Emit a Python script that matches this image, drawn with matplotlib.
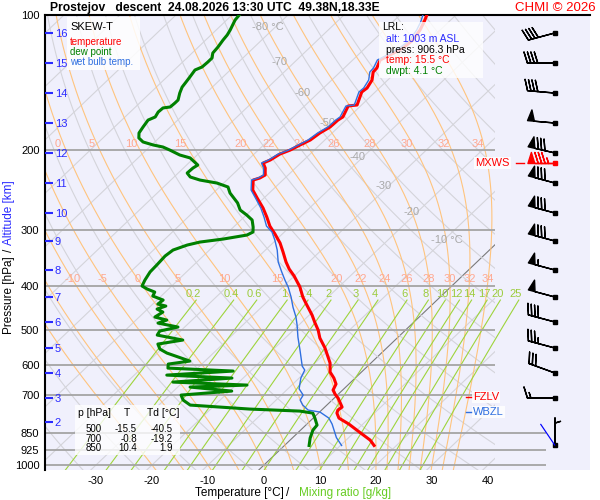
import numpy as np
import matplotlib
matplotlib.use('Agg')
import matplotlib.pyplot as plt
from matplotlib.patches import Rectangle
from matplotlib.ticker import NullLocator

plt.rcParams['font.family'] = ['Liberation Sans', 'DejaVu Sans']

# ---------------- sounding ----------------
temp_p = [100, 103.6, 108.0, 113.7, 118.4, 122.7, 125.9, 131.2, 133.9, 139.5,
          145.3, 148.3, 158.5, 159.3, 168.5, 171.2, 177.4, 182.9, 189.6, 194.5,
          199.6, 203.7, 210.0, 213.3, 218.8, 226.8, 230.3, 232.7, 244.9, 255.2,
          268.5, 281.4, 294.5, 306.7, 321.2, 336.2, 353.8, 366.9, 380.3, 402.4,
          423.6, 441.2, 464.3, 481.5, 501.4, 522.3, 549.8, 593.5, 621.6, 641.0,
          660.9, 681.6, 695.7, 710.1, 743.6, 755.1, 766.8, 786.7, 811.2, 844.3,
          880.5, 905]
temp_t = [-55.2, -54.4, -53.6, -53.0, -53.3, -54.3, -55.1, -54.2, -54.1, -52.8,
          -52.2, -52.4, -50.8, -52.2, -51.1, -51.4, -51.5, -52.2, -52.6, -53.5,
          -54.3, -55.4, -56.0, -56.7, -55.4, -54.1, -54.5, -55.3, -53.5, -51.2,
          -48.3, -45.9, -43.7, -41.3, -38.7, -36.5, -34.1, -32.2, -30.0, -26.9,
          -24.5, -22.3, -19.5, -17.7, -15.6, -13.8, -11.0, -7.3, -5.6, -3.8,
          -2.3, -1.7, -0.6, 0.7, 3.1, 2.9, 3.3, 4.6, 7.5, 10.8,
          14.3, 16.0]

dwpt_p = [100, 102.6, 108.0, 110.8, 113.7, 117.8, 121.5, 124.6, 127.2, 130.5,
          132.5, 137.4, 141.6, 144.6, 149.1, 154.5, 156.9, 160.1, 160.9, 164.3,
          168.5, 171.2, 177.4, 182.9, 187.6, 191.5, 194.5, 196.5, 199.6, 204.7,
          207.8, 215.5, 218.8, 224.5, 229.1, 232.7, 236.3, 241.1, 248.7, 261.6,
          271.3, 278.3, 285.5, 296.0, 303.6, 308.3, 314.7, 319.6, 324.5, 332.9,
          343.2, 359.5, 372.4, 388.2, 400.2, 406.5, 412.8, 421.3, 430.0, 439.0,
          443.4, 450.3, 457.3, 469.1, 476.4, 483.8, 493.7, 503.9, 514.4, 527.7,
          538.6, 552.6, 564.0, 587.6, 596.7, 609.1, 618.4, 631.3, 641.0, 654.3,
          664.4, 671.2, 685.1, 699.3, 717.4, 736.0, 751.2, 759.0, 766.8, 786.7,
          815.4, 836.5, 871.5, 905]
dwpt_t = [-88.7, -88.5, -87.5, -87.1, -86.9, -86.5, -86.3, -85.5, -85.5, -85.6,
          -86.3, -85.9, -85.6, -85.4, -84.7, -83.7, -83.7, -83.8, -84.9, -85.0,
          -84.6, -85.3, -84.9, -84.5, -83.6, -82.1, -79.7, -77.6, -75.8, -73.1,
          -70.7, -68.0, -68.3, -68.4, -67.1, -64.8, -61.2, -58.5, -57.0, -53.8,
          -52.0, -49.9, -48.0, -46.5, -45.6, -46.1, -49.6, -53.2, -54.9, -56.5,
          -56.8, -56.6, -56.5, -55.9, -55.3, -53.8, -51.9, -51.5, -48.9, -49.1,
          -47.3, -48.3, -46.7, -47.2, -44.5, -45.5, -41.2, -43.7, -43.4, -37.9,
          -41.6, -40.3, -38.3, -32.7, -36.0, -35.3, -23.1, -34.2, -22.0, -31.8,
          -18.0, -27.8, -19.6, -27.9, -26.6, -24.4, -13.0, -3.7, -1.0, 0.3,
          2.0, 2.2, 3.2, 4.4]

wetb_p = [100, 103.6, 108.0, 113.7, 118.4, 122.7, 125.9, 131.2, 133.9, 139.5,
          145.3, 148.3, 158.5, 159.3, 168.5, 171.2, 177.4, 182.9, 189.6, 194.5,
          199.6, 203.7, 210.0, 213.3, 218.8, 226.8, 230.3, 232.7, 244.9, 255.2,
          268.5, 281.4, 294.5, 303.6, 316.3, 332.9, 353.8, 371.6, 388.2, 402.4,
          423.6, 445.8, 469.1, 488.7, 519.7, 555.4, 602.9, 615.3, 641.0, 677.2,
          699.3, 717.4, 736.0, 755.1, 762.9, 786.7, 811.2, 869.3, 905]
wetb_t = [-55.9, -55.0, -54.2, -53.6, -53.9, -54.8, -55.6, -54.8, -54.7, -53.4,
          -52.8, -52.9, -51.3, -52.6, -51.6, -51.8, -51.9, -52.6, -53.0, -53.8,
          -54.6, -55.7, -56.3, -57.0, -55.7, -54.4, -54.8, -55.6, -53.8, -51.5,
          -48.7, -46.4, -44.3, -42.2, -40.2, -37.9, -35.5, -33.1, -30.9, -29.0,
          -26.6, -24.4, -22.0, -20.3, -17.9, -15.1, -11.7, -10.5, -9.7, -8.0,
          -6.1, -5.7, -4.3, -2.4, 0.1, 2.8, 4.5, 7.8, 10.2]

# winds at each km level + surface
wind_p = [109.6, 127.9, 149.1, 173.8, 202.6, 236.3, 275.5, 317.9, 368.8, 423.4,
          481.2, 549.7, 624.7, 710.0, 905]
wind_dir = [255, 270, 275, 275, 283, 285, 285, 285, 285, 285, 285, 285, 290, 270, 360]
wind_kt = [40, 40, 40, 50, 80, 80, 80, 80, 55, 50, 40, 35, 30, 15, 5]
mxws_p, mxws_dir, mxws_kt = 213.3, 270, 85
sfc_motion_dir = 326

alt_km = [16, 15, 14, 13, 12, 11, 10, 9, 8, 7, 6, 5, 4, 3, 2]
alt_p = [109.6, 127.9, 149.1, 173.8, 202.6, 236.3, 275.5, 317.9, 368.8, 423.4,
         481.2, 549.7, 624.7, 710.0, 802.7]

p_levels = [100, 200, 300, 400, 500, 600, 700, 850, 925, 1000]
t_ticks = [-30, -20, -10, 0, 10, 20, 30, 40]
isotherm_labels = [-80, -70, -60, -50, -40, -30, -20, -10]
isotherm_label_p = [106.3, 127.2, 149.1, 173.8, 206.8, 239.9, 274.1, 316.3]
thw_lines = [-20, -15, -10, -5, 0, 5, 10, 15, 20, 22, 24, 26, 28, 30, 32, 34]
thw_labels_low = [-10, -5, 0, 5, 10, 15, 20, 22, 24, 26, 28, 30, 32, 34]
thw_labels_high = [0, 5, 10, 15, 20, 22, 24, 26, 28, 30, 32, 34]
mix_ratios = [0.2, 0.4, 0.6, 1, 1.4, 2, 3, 4, 6, 8, 10, 12, 14, 17, 20, 25]
mix_labels = ['0.2', '0.4', '0.6', '1', '1.4', '2', '3', '4', '6', '8',
              '10', '12', '14', '17', '20', '25']

fzlv_p, wbzl_p = 706.6, 763.0
lrl_alt, lrl_press, lrl_temp, lrl_dwpt = 1003, 906.3, 15.5, 4.1
tab_p = [500, 700, 850]
tab_t = [-15.5, -0.8, 10.4]
tab_td = [-40.5, -19.2, 1.9]

# ---------------- helpers ----------------
K = 36.6                     # skew: deg C shift per unit ln(p)
X_LEFT, X_GRID, X_RIGHT = -39.11, 41.25, 58.21
P_TOP, P_BOT = 100, 1026
BARB_X = 51.96


def skx(t, p):
    return np.asarray(t, float) + K * np.log(1000.0 / np.asarray(p, float))


def esat(tc):
    return 6.112 * np.exp(17.67 * tc / (tc + 243.5))


def dtdp(p, T):
    e = esat(T - 273.15)
    rs = 0.622 * e / (p - e)
    Rd, Cp, Lv = 287.04, 1005.7, 2.501e6
    return (Rd * T + Lv * rs) / p / (Cp + Lv * Lv * rs * 0.622 / (Rd * T * T))


def moist(tw, pgrid):
    T = [tw + 273.15]
    for i in range(len(pgrid) - 1):
        p, h, t = pgrid[i], pgrid[i + 1] - pgrid[i], T[-1]
        k1 = dtdp(p, t)
        k2 = dtdp(p + h / 2, t + h / 2 * k1)
        k3 = dtdp(p + h / 2, t + h / 2 * k2)
        k4 = dtdp(p + h, t + h * k3)
        T.append(t + h / 6 * (k1 + 2 * k2 + 2 * k3 + k4))
    return np.array(T) - 273.15


def fx(px):
    return px / 600.0


def fy(py):
    return 1 - py / 500.0


# ---------------- figure ----------------
fig = plt.figure(figsize=(6, 5), dpi=100)
fig.patch.set_facecolor('white')
ax = fig.add_axes([fx(45), 30 / 500, 545 / 600, 455 / 500])
ax.set_facecolor('#f0f0fc')
ax.set_yscale('log')
ax.set_ylim(P_BOT, P_TOP)
ax.set_xlim(X_LEFT, X_RIGHT)

clip = Rectangle((X_LEFT, P_TOP), X_GRID - X_LEFT, P_BOT - P_TOP,
                 transform=ax.transData, fill=False, lw=0)
ax.add_patch(clip)
clip.set_visible(False)

pp = np.geomspace(P_TOP, P_BOT, 120)
# isotherms
for t in range(-130, 60, 10):
    ln, = ax.plot(skx(t, pp), pp, color='#7a7a7a' if t == 0 else '#d4d4da',
                  lw=0.8, zorder=1)
    ln.set_clip_path(clip)
# dry adiabats
for th in range(200, 530, 10):
    ln, = ax.plot(skx(th * (pp / 1000.0) ** 0.2857 - 273.15, pp), pp,
                  color='#d4d4da', lw=0.8, zorder=1)
    ln.set_clip_path(clip)
# pseudo adiabats
p_up = np.linspace(1000, 100, 361)
p_dn = np.linspace(1000, 1030, 13)
thw_curves = {}
for tw in thw_lines:
    tu, td = moist(tw, p_up), moist(tw, p_dn)
    pc = np.concatenate([p_dn[::-1], p_up[1:]])
    tc = np.concatenate([td[::-1], tu[1:]])
    thw_curves[tw] = (pc, tc)
    ln, = ax.plot(skx(tc, pc), pc, color='#ffc47e', lw=0.8, zorder=1.2)
    ln.set_clip_path(clip)


def thw_x(tw, p):
    pc, tc = thw_curves[tw]
    return np.interp(np.log(p), np.log(pc[::-1]), skx(tc, pc)[::-1])


for tw in thw_labels_low:
    ax.text(thw_x(tw, 386), 386, str(tw), color='#ffa890', fontsize=8,
            ha='center', va='center', zorder=2)
for tw in thw_labels_high:
    ax.text(thw_x(tw, 193.5) - 1.0, 193.5, str(tw), color='#ffa890', fontsize=8,
            ha='center', va='center', zorder=2)

# mixing ratio lines
pm = np.geomspace(430, P_BOT, 60)
for w, lab in zip(mix_ratios, mix_labels):
    a = np.log(w * pm / (622.0 + w) / 6.112)
    tdm = 243.5 * a / (17.67 - a)
    ax.plot(skx(tdm, pm), pm, color='#9ed43c', lw=0.8, zorder=1.3)
    ax.text(skx(tdm[0], pm[0]) - 0.5, 427, lab, color='#9ccc3c', fontsize=8,
            ha='center', va='bottom', zorder=2)

# isotherm labels
for t, p in zip(isotherm_labels, isotherm_label_p):
    lab = '%d °C' % t if t in (-80, -10) else str(t)
    shift = 4.2 if t <= -50 else 2.4
    ax.text(skx(t, p) - shift, p, lab, color='#a8a8a8', fontsize=8,
            ha='left', va='center', zorder=2)

# pressure grid lines
ax.hlines(p_levels, X_LEFT, [50.36 if p >= 850 else X_GRID for p in p_levels],
          color='#a4a4a4', lw=1.3, zorder=1.5)

# profiles
ax.plot(skx(wetb_t, wetb_p), wetb_p, color='#2f6fe0', lw=1.0, zorder=4)
ax.plot(skx(dwpt_t, dwpt_p), dwpt_p, color='#008000', lw=2.2, zorder=3)
ax.plot(skx(temp_t, temp_p), temp_p, color='#ff0000', lw=2.2, zorder=3.5)

# winds
wd = np.radians(wind_dir)
spd = np.array(wind_kt, float)
ax.barbs(np.full(len(wind_p), BARB_X), wind_p, -spd * np.sin(wd), -spd * np.cos(wd),
         length=6.3, linewidth=1.0, color='black', zorder=5)
ax.plot(np.full(len(wind_p), BARB_X), wind_p, 's', ms=3, color='black', zorder=5)
md = np.radians(mxws_dir)
ax.barbs([BARB_X], [mxws_p], [-mxws_kt * np.sin(md)], [-mxws_kt * np.cos(md)],
         length=6.3, linewidth=1.0, color='red', zorder=5)
ax.plot([BARB_X], [mxws_p], 's', ms=3, color='red', zorder=5)
sd = np.radians(sfc_motion_dir)
ax.quiver([BARB_X], [wind_p[-1]], [np.sin(sd)], [np.cos(sd)], color='blue',
          angles='uv', scale_units='dots', scale=1 / 26.0, units='dots',
          width=1.2, headwidth=0, headlength=0, headaxislength=0, pivot='tail',
          zorder=5)

# level markers
box = dict(facecolor='white', edgecolor='none', alpha=0.85, pad=1)
ax.text(37.3, fzlv_p, 'FZLV', color='red', fontsize=8, va='center', bbox=box, zorder=6)
ax.plot([36.0, 37.0], [fzlv_p, fzlv_p], color='red', lw=1, zorder=6)
ax.text(37.3, wbzl_p, 'WBZL', color='#2f6fe0', fontsize=8, va='center', bbox=box, zorder=6)
ax.plot([36.0, 37.0], [wbzl_p, wbzl_p], color='#2f6fe0', lw=1, zorder=6)
ax.text(43.9, mxws_p, 'MXWS', color='red', fontsize=8, va='center', ha='right',
        bbox=box, zorder=6)
ax.plot([45.0, 46.4], [mxws_p, mxws_p], color='red', lw=1, zorder=6)

# axes cosmetics
for s in ('right', 'bottom'):
    ax.spines[s].set_visible(False)
for s in ('top', 'left'):
    ax.spines[s].set_linewidth(1.5)
ax.set_yticks(p_levels)
ax.set_yticklabels([str(p) for p in p_levels])
ax.yaxis.set_minor_locator(NullLocator())
ax.set_xticks(t_ticks)
ax.set_xticklabels([str(t) for t in t_ticks])
ax.tick_params(axis='both', length=0, labelsize=8)
ax.tick_params(axis='y', pad=4)
ax.tick_params(axis='x', pad=4)

# altitude axis
ax_alt = ax.twinx()
ax_alt.set_yscale('log')
ax_alt.set_ylim(P_BOT, P_TOP)
ax_alt.set_yticks(alt_p)
ax_alt.set_yticklabels([str(a) for a in alt_km])
ax_alt.yaxis.set_minor_locator(NullLocator())
ax_alt.yaxis.tick_left()
ax_alt.tick_params(axis='y', direction='in', length=6, width=1.5, color='#2a2aff',
                   labelcolor='#2a2aff', labelsize=8, pad=-7)
for tk in ax_alt.yaxis.get_major_ticks():
    tk.label1.set_horizontalalignment('left')
for s in ax_alt.spines.values():
    s.set_visible(False)
ax_alt.patch.set_visible(False)

# title
fig.text(fx(50), fy(8), 'Prostejov   descent  24.08.2026 13:30 UTC  49.38N,18.33E',
         fontsize=8.7, weight='bold', va='center')
fig.text(fx(596), fy(8), 'CHMI © 2026', fontsize=9.5, color='red', ha='right', va='center')

# axis labels
fig.text(fx(9), fy(295), 'Pressure [hPa]', rotation=90, fontsize=8.5, ha='center', va='center')
fig.text(fx(9), fy(250), '/', rotation=90, fontsize=8.5, ha='center', va='center')
fig.text(fx(9), fy(213), 'Altitude [km]', rotation=90, fontsize=8.5, color='#2a2aff',
         ha='center', va='center')
fig.text(fx(239), fy(493), 'Temperature [°C]', fontsize=8.5, ha='center', va='center')
fig.text(fx(288), fy(493), '/', fontsize=8.5, ha='center', va='center')
fig.text(fx(345), fy(493), 'Mixing ratio [g/kg]', fontsize=8.5, color='#66cc22',
         ha='center', va='center')

# legend box
fig.add_artist(Rectangle((fx(67), fy(70)), fx(73), 53 / 500, transform=fig.transFigure,
                         facecolor='white', edgecolor='none', alpha=0.85, zorder=2.5))
fig.text(fx(70), fy(27), 'SKEW-T', fontsize=8, va='center')
fig.text(fx(70), fy(42), 'temperature', fontsize=7, color='red', va='center')
fig.text(fx(70), fy(52), 'dew point', fontsize=7, color='#008000', va='center')
fig.text(fx(70), fy(62), 'wet bulb temp.', fontsize=7, color='#2f6fe0', va='center')

# LRL box
fig.add_artist(Rectangle((fx(379), fy(78)), fx(104), 56 / 500, transform=fig.transFigure,
                         facecolor='white', edgecolor='none', alpha=0.8, zorder=2.5))
fig.text(fx(382), fy(27), 'LRL:', fontsize=7.5, va='center')
fig.text(fx(386), fy(39), 'alt: %d m ASL' % lrl_alt, fontsize=7.5, color='#2a2aff', va='center')
fig.text(fx(386), fy(50), 'press: %.1f hPa' % lrl_press, fontsize=7.5, va='center')
fig.text(fx(386), fy(60), 'temp: %.1f °C' % lrl_temp, fontsize=7.5, color='red', va='center')
fig.text(fx(386), fy(71), 'dwpt: %.1f °C' % lrl_dwpt, fontsize=7.5, color='#008000', va='center')

# table box
fig.add_artist(Rectangle((fx(75), fy(455)), fx(105), 50 / 500, transform=fig.transFigure,
                         facecolor='white', edgecolor='none', alpha=0.8, zorder=2.5))
fig.text(fx(78), fy(413), 'p [hPa]', fontsize=7.5, va='center')
fig.text(fx(127), fy(413), 'T', fontsize=7.5, va='center', ha='center')
fig.text(fx(147), fy(413), 'Td [°C]', fontsize=7.5, va='center')
for i, (p, t, td) in enumerate(zip(tab_p, tab_t, tab_td)):
    yy = fy(429 + i * 9.7)
    fig.text(fx(102), yy, str(p), fontsize=7, ha='right', va='center')
    fig.text(fx(137), yy, '%.1f' % t, fontsize=7, ha='right', va='center')
    fig.text(fx(173), yy, '%.1f' % td, fontsize=7, ha='right', va='center')

fig.savefig('out.png', dpi=100, facecolor='white')
